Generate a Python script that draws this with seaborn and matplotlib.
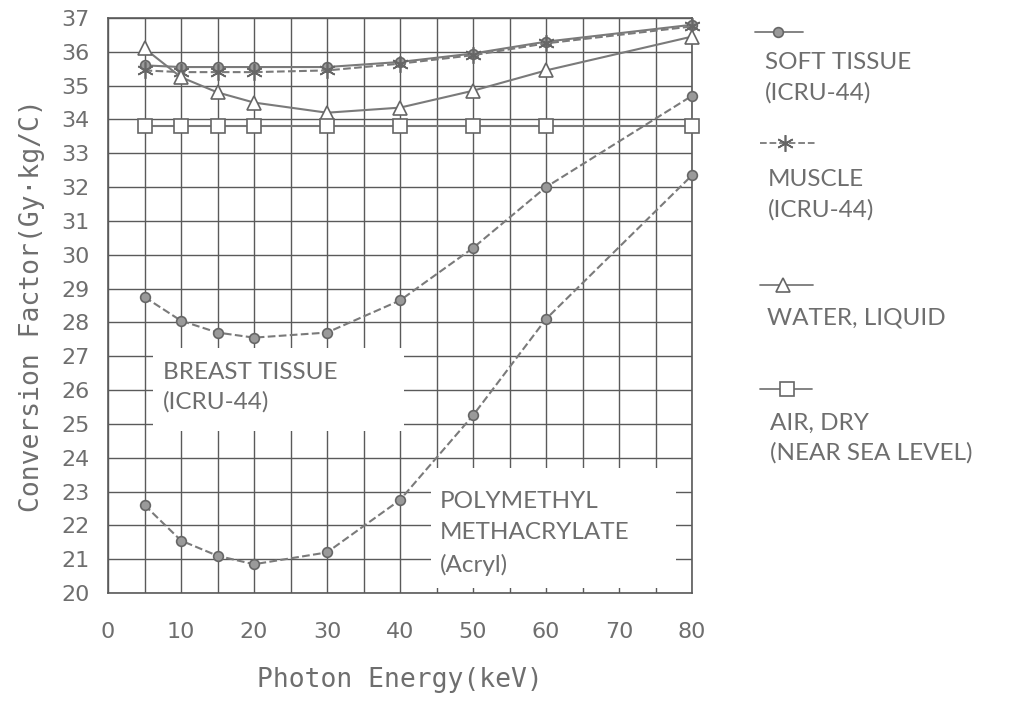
import matplotlib
matplotlib.use("Agg")
import matplotlib.pyplot as plt
import seaborn as sns
import pandas as pd
from matplotlib.patches import Rectangle
from matplotlib.ticker import MultipleLocator

energy = [5, 10, 15, 20, 30, 40, 50, 60, 80]
soft_tissue = [35.6, 35.55, 35.55, 35.55, 35.55, 35.7, 35.95, 36.3, 36.8]
muscle = [35.45, 35.4, 35.4, 35.4, 35.45, 35.65, 35.9, 36.25, 36.75]
water = [36.1, 35.25, 34.8, 34.5, 34.2, 34.35, 34.85, 35.45, 36.45]
air = [33.82, 33.82, 33.82, 33.82, 33.82, 33.82, 33.82, 33.82, 33.82]
breast = [28.75, 28.05, 27.7, 27.55, 27.7, 28.65, 30.2, 32.0, 34.7]
pmma = [22.6, 21.55, 21.1, 20.85, 21.2, 22.75, 25.25, 28.1, 32.35]

x_ticks = [0, 10, 20, 30, 40, 50, 60, 70, 80]
y_ticks = list(range(20, 38))

sns.set_theme(style="white")
plt.rcParams['font.family'] = ['DejaVu Sans']

TXT = "#6e6e6e"
LINE = "#7a7a7a"
GRID = "#5a5a5a"
LABEL_FONT = ['Lato', 'DejaVu Sans']
AXIS_FONT = ['DejaVu Sans Mono', 'DejaVu Sans']

fig = plt.figure(figsize=(10.15, 7.04), dpi=100)
ax = fig.add_axes([108/1015, 1 - 593/704, (692-108)/1015, (593-18)/704])
ax.set_axisbelow(True)

series = [
    ("soft", soft_tissue, "-", "o", "#9a9a9a", 7),
    ("muscle", muscle, "--", (6, 2, 0), "#666666", 12),
    ("water", water, "-", "^", "white", 10),
    ("air", air, "-", "s", "white", 10),
    ("breast", breast, "--", "o", "#9a9a9a", 7),
    ("pmma", pmma, "--", "o", "#9a9a9a", 7),
]
for name, vals, ls, mk, fc, ms in series:
    df = pd.DataFrame({"energy": energy, "value": vals})
    sns.lineplot(data=df, x="energy", y="value", ax=ax, color=LINE,
                 linestyle=ls, linewidth=1.5, marker=mk, markersize=ms,
                 markerfacecolor=fc, markeredgecolor="#666666", markeredgewidth=1.2,
                 zorder=3, clip_on=False)

ax.set_xlim(0, 80)
ax.set_ylim(20, 37)
ax.set_xticks(x_ticks)
ax.xaxis.set_minor_locator(MultipleLocator(5))
ax.set_yticks(y_ticks)
ax.grid(True, which="both", color=GRID, linewidth=1.0)
ax.tick_params(axis="both", which="both", length=0, labelsize=16, labelcolor=TXT)
ax.tick_params(axis="x", pad=21)
ax.tick_params(axis="y", pad=13)
for s in ax.spines.values():
    s.set_color(GRID)
    s.set_linewidth(1.2)

ax.set_xlabel("Photon Energy(keV)", fontsize=19, color=TXT, labelpad=18, family=AXIS_FONT)
ax.set_ylabel("Conversion Factor(Gy\u00b7kg/C)", fontsize=19, color=TXT, labelpad=12,
              family=AXIS_FONT)

# white label boxes over the grid
ax.add_patch(Rectangle((6.1, 24.8), 34.4, 2.45, facecolor="white", edgecolor="none", zorder=1))
ax.add_patch(Rectangle((44.3, 20.15), 33.5, 3.55, facecolor="white", edgecolor="none", zorder=1))
ax.text(7.5, 26.08, "BREAST TISSUE\n(ICRU-44)", fontsize=17.5, color=TXT, va="center",
        ha="left", linespacing=1.5, zorder=4, family=LABEL_FONT)
ax.text(45.5, 21.77, "POLYMETHYL\nMETHACRYLATE\n(Acryl)", fontsize=17.5, color=TXT,
        va="center", ha="left", linespacing=1.6, zorder=4, family=LABEL_FONT)

# legend drawn in pixel coordinates
lg = fig.add_axes([0, 0, 1, 1], facecolor="none")
lg.set_xlim(0, 1015)
lg.set_ylim(704, 0)
lg.axis("off")
entries = [
    ("-", "o", "#9a9a9a", 7, (755, 803), 778, 32, 765, 78, "SOFT TISSUE\n(ICRU-44)"),
    ("--", (6, 2, 0), "#666666", 12, (760, 815), 785, 143, 768, 195, "MUSCLE\n(ICRU-44)"),
    ("-", "^", "white", 10, (760, 813), 783, 285, 767, 318, "WATER, LIQUID"),
    ("-", "s", "white", 10, (760, 812), 787, 389, 770, 438, "AIR, DRY\n(NEAR SEA LEVEL)"),
]
for ls, mk, fc, ms, (x0, x1), mx, my, tx, ty, label in entries:
    lg.plot([x0, x1], [my, my], color=LINE, linestyle=ls, linewidth=1.3)
    lg.plot([mx], [my], marker=mk, markersize=ms, markerfacecolor=fc,
            markeredgecolor="#666666", markeredgewidth=1.2, linestyle="none")
    lg.text(tx, ty, label, fontsize=17.5, color=TXT, ha="left", va="center",
            linespacing=1.5, family=LABEL_FONT)

fig.savefig("out.png", dpi=100)
